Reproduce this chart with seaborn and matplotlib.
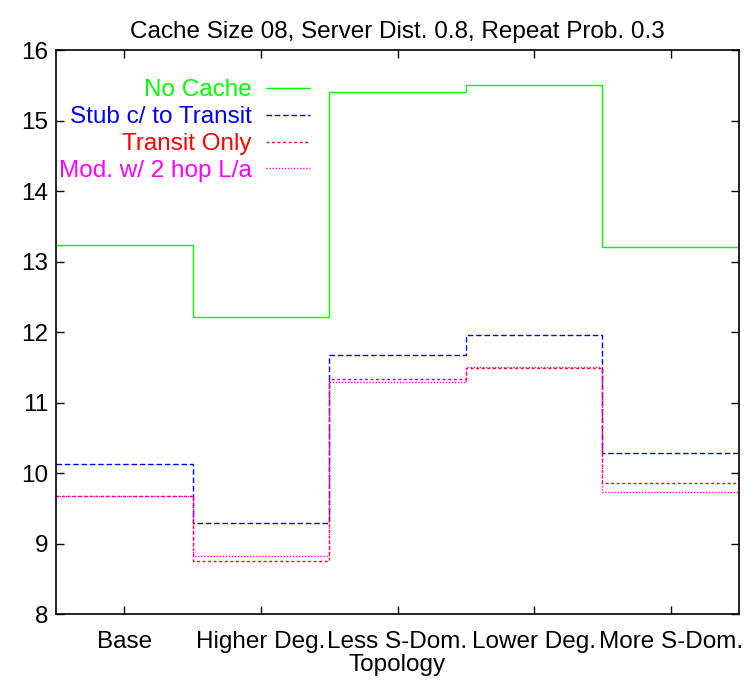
import numpy as np
import pandas as pd
import matplotlib
matplotlib.use("Agg")
import matplotlib.pyplot as plt
import seaborn as sns

# Data
topologies = ["Base", "Higher Deg.", "Less S-Dom.", "Lower Deg.", "More S-Dom."]
no_cache = [13.24, 12.21, 15.40, 15.51, 13.21]
stub_to_transit = [10.13, 9.29, 11.68, 11.96, 10.29]
transit_only = [9.67, 8.75, 11.34, 11.49, 9.86]
mod_2hop = [9.68, 8.83, 11.29, 11.51, 9.73]

series = [
    ("No Cache", no_cache, "#00ff00", "-"),
    ("Stub c/ to Transit", stub_to_transit, "#0000ff", (0, (4, 2))),
    ("Transit Only", transit_only, "#ff0000", (0, (2, 2))),
    ("Mod. w/ 2 hop L/a", mod_2hop, "#ff00ff", (0, (1, 1.2))),
]

sns.set_style("ticks")
plt.rcParams['font.family'] = ['Liberation Sans', 'DejaVu Sans']
plt.rcParams['font.size'] = 17.5
plt.rcParams['text.color'] = 'black'
plt.rcParams['axes.labelcolor'] = 'black'
plt.rcParams['xtick.color'] = 'black'
plt.rcParams['ytick.color'] = 'black'

fig = plt.figure(figsize=(7.44, 6.84), dpi=100)
ax = fig.add_axes([0.0753, 0.1023, 0.9180, 0.8246])

pos = np.arange(len(topologies))

# histeps-style steps: one bin per topology, weighted by the value
for name, vals, color, ls in series:
    df = pd.DataFrame({"pos": pos, "val": vals})
    sns.histplot(data=df, x="pos", weights="val", binwidth=1,
                 binrange=(-0.5, len(topologies) - 0.5), element="step",
                 fill=False, color=color, linestyle=ls, linewidth=1.0,
                 label=name, ax=ax)

ax.set_xlim(-0.5, 4.5)
ax.set_ylim(8, 16)
ax.set_xticks(pos)
ax.set_xticklabels(topologies)
ax.set_yticks(range(8, 17))
ax.set_xlabel("Topology", labelpad=1)
ax.set_ylabel("")
ax.set_title("Cache Size 08, Server Dist. 0.8, Repeat Prob. 0.3", pad=8.5, fontsize=17.5)

ax.tick_params(direction="in", length=6, width=1, top=True, right=True,
               labelsize=17.5)
ax.tick_params(axis="y", pad=5.5)
ax.tick_params(axis="x", pad=12)
for s in ax.spines.values():
    s.set_visible(True)
    s.set_linewidth(1.2)
    s.set_color("black")

leg = ax.legend(loc="upper right", bbox_to_anchor=(0.372, 0.948), frameon=False,
                markerfirst=False, handlelength=1.8, handletextpad=0.6,
                labelspacing=0.2, borderpad=0, borderaxespad=0,
                labelcolor="linecolor", fontsize=17.5)

fig.savefig("out.png", dpi=100)
